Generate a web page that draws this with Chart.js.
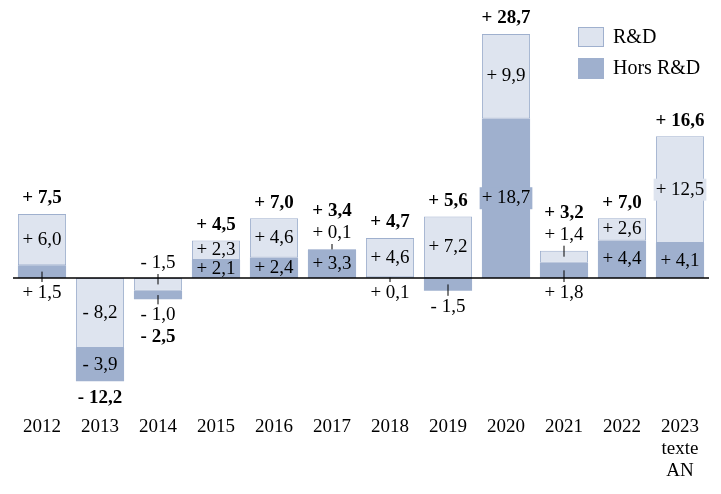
<!DOCTYPE html>
<html>
<head>
<meta charset="utf-8">
<script src="https://cdn.jsdelivr.net/npm/chart.js@4/dist/chart.umd.min.js"></script>
<style>
html,body{margin:0;padding:0;background:#fff;}
#wrap{width:721px;height:494px;}
</style>
</head>
<body>
<div id="wrap"><canvas id="c" width="721" height="494"></canvas></div>
<script>
// ---- data ----
const categories = ['2012','2013','2014','2015','2016','2017','2018','2019','2020','2021','2022','2023'];
const xTickLabels = ['2012','2013','2014','2015','2016','2017','2018','2019','2020','2021','2022',['2023','texte','AN']];
const rdValues   = [6.0, -8.2, -1.5, 2.3, 4.6, 0.1, 4.6, 7.2, 9.9, 1.4, 2.6, 12.5];
const horsValues = [1.5, -3.9, -1.0, 2.1, 2.4, 3.3, 0.1, -1.5, 18.7, 1.8, 4.4, 4.1];
const totalValues = [7.5, -12.2, -2.5, 4.5, 7.0, 3.4, 4.7, 5.6, 28.7, 3.2, 7.0, 16.6];
const seriesNames = ['R&D', 'Hors R&D'];

// ---- styles ----
const LIGHT = '#dee4ef';
const DARK = '#9fb0ce';
const EDGE = '#9fb0ce';
const FONT = '"Liberation Serif", "Times New Roman", serif';

function fmt(v) {
  const s = Math.abs(v).toFixed(1).replace('.', ',');
  return (v < 0 ? '- ' : '+ ') + s;
}

const datasets = [
  { label: seriesNames[0], data: rdValues.map(v => v < 0 ? v : null), backgroundColor: LIGHT, borderColor: EDGE, borderWidth: 1, borderSkipped: false, stack: 's' },
  { label: seriesNames[1], data: horsValues, backgroundColor: DARK, borderColor: DARK, borderWidth: 0, stack: 's' },
  { label: seriesNames[0], data: rdValues.map(v => v >= 0 ? v : null), backgroundColor: LIGHT, borderColor: EDGE, borderWidth: 1, borderSkipped: false, stack: 's' }
];

const labelPlugin = {
  id: 'labels',
  afterDatasetsDraw(chart) {
    const ctx = chart.ctx;
    const ys = chart.scales.y;
    const area = chart.chartArea;
    const zero = ys.getPixelForValue(0);
    ctx.save();
    // zero line
    ctx.strokeStyle = '#000';
    ctx.lineWidth = 1.5;
    ctx.beginPath();
    ctx.moveTo(area.left, zero);
    ctx.lineTo(area.right, zero);
    ctx.stroke();

    ctx.textAlign = 'center';
    ctx.textBaseline = 'middle';
    const TH = 17;
    for (let i = 0; i < categories.length; i++) {
      const segs = [];
      [0, 1, 2].forEach(d => {
        const v = chart.data.datasets[d].data[i];
        if (v === null || v === undefined) return;
        const el = chart.getDatasetMeta(d).data[i];
        const top = Math.min(el.y, el.base), bot = Math.max(el.y, el.base);
        segs.push({ v, x: el.x, w: el.width, top, bot, mid: (top + bot) / 2, color: chart.data.datasets[d].backgroundColor });
      });
      const pos = segs.filter(s => s.v >= 0).sort((a, b) => b.bot - a.bot);
      const neg = segs.filter(s => s.v < 0).sort((a, b) => a.top - b.top);
      let posEnd = pos.length ? Math.min(...pos.map(s => s.top)) : zero;
      let negEnd = neg.length ? Math.max(...neg.map(s => s.bot)) : zero;
      let posOuterLabel = null, negOuterLabel = null;
      const x = segs.length ? segs[0].x : 0;
      ctx.font = '19px ' + FONT;
      ctx.fillStyle = '#000';
      const drawTick = (from, to) => {
        ctx.strokeStyle = '#000'; ctx.lineWidth = 1;
        ctx.beginPath(); ctx.moveTo(x, from); ctx.lineTo(x, to); ctx.stroke();
      };
      const handle = (list, dir) => { // dir -1 for positive (upwards), +1 for negative
        list.forEach((s, k) => {
          const txt = fmt(s.v);
          const h = s.bot - s.top;
          if (h >= TH) {
            const tw = ctx.measureText(txt).width + 4;
            if (tw > s.w) {
              ctx.fillStyle = s.color;
              ctx.fillRect(x - tw / 2, s.mid - 11, tw, 22);
            }
            ctx.fillStyle = '#000';
            ctx.fillText(txt, x, s.mid);
          } else if (k === list.length - 1) {
            const ly = dir < 0 ? s.top - 16 : s.bot + 16;
            drawTick(s.mid, ly + 11 * (dir < 0 ? 1 : -1));
            ctx.fillStyle = '#000';
            ctx.fillText(txt, x, ly);
            if (dir < 0) posOuterLabel = ly; else negOuterLabel = ly;
          } else {
            const ly = dir < 0 ? zero + 15 : zero - 15;
            drawTick(s.mid, ly + 11 * (dir < 0 ? -1 : 1));
            ctx.fillStyle = '#000';
            ctx.fillText(txt, x, ly);
          }
        });
      };
      handle(pos, -1);
      handle(neg, 1);
      // totals
      const t = totalValues[i];
      ctx.font = 'bold 19px ' + FONT;
      ctx.fillStyle = '#000';
      let ty;
      if (t >= 0) ty = posOuterLabel !== null ? posOuterLabel - 21.5 : posEnd - 15.5;
      else ty = negOuterLabel !== null ? negOuterLabel + 21.5 : negEnd + 16.5;
      ctx.fillText(fmt(t), x, ty);
    }
    ctx.restore();
  },
  afterDraw(chart) {
    const ctx = chart.ctx;
    ctx.save();
    ctx.fillStyle = LIGHT; ctx.strokeStyle = EDGE; ctx.lineWidth = 1;
    ctx.fillRect(578, 27, 26, 20);
    ctx.strokeRect(578.5, 27.5, 25, 19);
    ctx.fillStyle = DARK;
    ctx.fillRect(578, 58, 26, 21);
    ctx.fillStyle = '#000';
    ctx.font = '20px ' + FONT;
    ctx.textAlign = 'left'; ctx.textBaseline = 'middle';
    ctx.fillText(seriesNames[0], 613, 38);
    ctx.fillText(seriesNames[1], 613, 69);
    ctx.restore();
  }
};

new Chart(document.getElementById('c'), {
  type: 'bar',
  data: { labels: xTickLabels, datasets },
  options: {
    responsive: false,
    devicePixelRatio: 1,
    animation: false,
    barPercentage: 0.83,
    categoryPercentage: 1,
    layout: { padding: { top: 22, bottom: 0, left: 13, right: 12 } },
    plugins: { legend: { display: false }, tooltip: { enabled: false } },
    scales: {
      x: {
        stacked: true,
        grid: { display: false },
        border: { display: false },
        ticks: { color: '#000', font: { family: FONT, size: 19, lineHeight: 1.16 }, padding: 10, maxRotation: 0, autoSkip: false },
        afterFit(scale) { scale.height = 96.5; }
      },
      y: { stacked: true, display: false, min: -14, max: 30 }
    }
  },
  plugins: [labelPlugin]
});
</script>
</body>
</html>
